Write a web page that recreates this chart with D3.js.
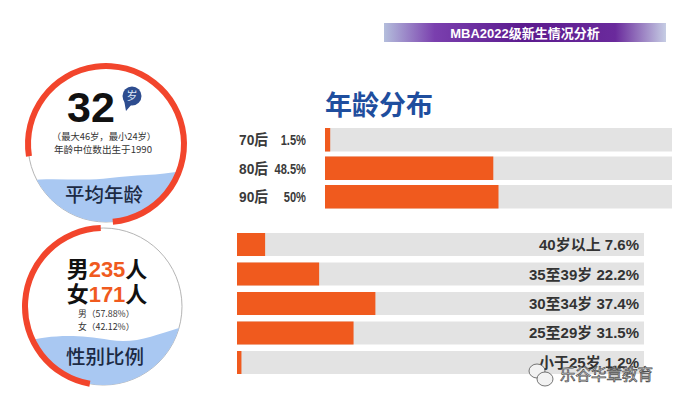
<!DOCTYPE html>
<html><head><meta charset="utf-8">
<script src="https://cdn.jsdelivr.net/npm/d3@7"></script>
<style>
html,body{margin:0;padding:0;background:#fff;}
svg{display:block;}
text{font-family:"Liberation Sans","Noto Sans CJK SC",sans-serif;}
</style></head>
<body>
<svg id="chart" width="676" height="404"></svg>
<script>
// ---- data ----
const bannerTitle = "MBA2022级新生情况分析";
const sectionTitle = "年龄分布";
const generations = ["70后", "80后", "90后"];
const generationShares = [1.5, 48.5, 50];
const generationLabels = ["1.5%", "48.5%", "50%"];
const ageGroups = ["40岁以上", "35至39岁", "30至34岁", "25至29岁", "小于25岁"];
const ageShares = [7.6, 22.2, 37.4, 31.5, 1.2];
const ageLabels = ["7.6%", "22.2%", "37.4%", "31.5%", "1.2%"];
const averageAge = 32;
const ageNotes = ["（最大46岁，最小24岁）", "年龄中位数出生于1990"];
const genders = ["男", "女"];
const genderCounts = [235, 171];
const genderPercents = ["57.88%", "42.12%"];
const watermark = "乐谷华章教育";

const svg = d3.select("#chart");
const defs = svg.append("defs");
const ORANGE = "#f05a1e", TRACK = "#e3e3e3", RED = "#f2452c", BLUE = "#a9c8f2";

// ---- banner ----
const g = defs.append("linearGradient").attr("id", "bannerGrad");
[[0, "#b4bedc"], [0.18, "#7a3fae"], [0.5, "#5b1a8e"], [0.82, "#6a2a9c"], [1, "#c6cde4"]]
  .forEach(([o, c]) => g.append("stop").attr("offset", o).attr("stop-color", c));
svg.append("rect").attr("x", 384).attr("y", 23).attr("width", 282).attr("height", 19).attr("fill", "url(#bannerGrad)");
svg.append("text").attr("x", 525).attr("y", 37.5).attr("text-anchor", "middle")
  .attr("fill", "#fff").attr("font-weight", "bold").attr("font-size", 13).text(bannerTitle);

// ---- section title ----
svg.append("text").attr("x", 325).attr("y", 115).attr("fill", "#1f4e9e")
  .attr("font-weight", "bold").attr("font-size", 27)
  .style("font-family", "'Noto Sans CJK SC',sans-serif").text(sectionTitle);

// ---- generation bars ----
const xTop = d3.scaleLinear().domain([0, 100]).range([325, 672]);
const yTop = d3.scaleBand().domain(generations).range([128, 208.5]).paddingInner(0.175);
const topRows = svg.append("g").selectAll("g").data(generations).join("g");
topRows.append("rect").attr("x", xTop(0)).attr("y", d => yTop(d))
  .attr("width", xTop(100) - xTop(0)).attr("height", yTop.bandwidth()).attr("fill", TRACK);
topRows.append("rect").attr("x", xTop(0)).attr("y", d => yTop(d))
  .attr("width", (d, i) => xTop(generationShares[i]) - xTop(0)).attr("height", yTop.bandwidth()).attr("fill", ORANGE);
topRows.append("text").attr("x", 239).attr("y", d => yTop(d) + yTop.bandwidth() / 2 + 5.5)
  .attr("fill", "#3a3a3a").attr("font-weight", "bold").attr("font-size", 15)
  .attr("textLength", 29).attr("lengthAdjust", "spacingAndGlyphs").text(d => d);
topRows.append("text").attr("x", 306).attr("text-anchor", "end").attr("y", d => yTop(d) + yTop.bandwidth() / 2 + 5.5)
  .attr("fill", "#3a3a3a").attr("font-weight", "bold").attr("font-size", 15)
  .text((d, i) => generationLabels[i])
  .each(function () {
    const w = this.getComputedTextLength();
    d3.select(this).attr("textLength", w * 0.74).attr("lengthAdjust", "spacingAndGlyphs");
  });

// ---- age group bars ----
const xBot = d3.scaleLinear().domain([0, 110]).range([237, 644]);
const yBot = d3.scaleBand().domain(ageGroups).range([233, 374]).paddingInner(0.22);
const botRows = svg.append("g").selectAll("g").data(ageGroups).join("g");
botRows.append("rect").attr("x", xBot(0)).attr("y", d => yBot(d))
  .attr("width", xBot(110) - xBot(0)).attr("height", yBot.bandwidth()).attr("fill", TRACK);
botRows.append("rect").attr("x", xBot(0)).attr("y", d => yBot(d))
  .attr("width", (d, i) => xBot(ageShares[i]) - xBot(0)).attr("height", yBot.bandwidth()).attr("fill", ORANGE);
botRows.append("text").attr("x", 639).attr("text-anchor", "end").attr("y", d => yBot(d) + yBot.bandwidth() / 2 + 5.5)
  .attr("fill", "#333").attr("font-weight", "bold").attr("font-size", 15)
  .text((d, i) => d + " " + ageLabels[i]);

// ---- circles ----
function badge(cx, cy, r, redStart, redEnd, wave, id) {
  const grp = svg.append("g");
  defs.append("clipPath").attr("id", id).append("circle").attr("cx", cx).attr("cy", cy).attr("r", r);
  grp.append("circle").attr("cx", cx).attr("cy", cy).attr("r", r).attr("fill", "#fff").attr("stroke", "#b5b5b5").attr("stroke-width", 1);
  grp.append("path").attr("clip-path", `url(#${id})`).attr("d", wave).attr("fill", BLUE);
  const arc = d3.arc().innerRadius(r - 3).outerRadius(r + 3)
    .startAngle(redStart * Math.PI / 180).endAngle(redEnd * Math.PI / 180);
  grp.append("path").attr("transform", `translate(${cx},${cy})`).attr("d", arc()).attr("fill", RED);
  return grp;
}

const c1 = { x: 106, y: 144, r: 78 };
badge(c1.x, c1.y, c1.r, -99, 175,
  "M20,182 C45,176 80,182 110,178 C140,174 165,177 200,166 L200,240 L20,240 Z", "clip1");
svg.append("text").attr("x", 67).attr("y", 122).attr("font-size", 43).attr("font-weight", "bold")
  .attr("fill", "#111").text(averageAge);
// speech bubble
svg.append("path").attr("d", "M124,100 L126,111 L132,104 Z").attr("fill", "#2e4d8f");
svg.append("circle").attr("cx", 132).attr("cy", 96).attr("r", 9.5).attr("fill", "#2e4d8f");
svg.append("text").attr("x", 132).attr("y", 100).attr("text-anchor", "middle").attr("font-size", 11)
  .attr("fill", "#dfe8f8").style("font-family", "'Noto Sans CJK SC',sans-serif").text("岁");
svg.append("text").attr("x", 104).attr("y", 139.5).attr("text-anchor", "middle").attr("font-size", 9.3)
  .attr("fill", "#333").style("font-family", "'Noto Sans CJK SC',sans-serif").text(ageNotes[0]);
svg.append("text").attr("x", 103).attr("y", 153).attr("text-anchor", "middle").attr("font-size", 9.6)
  .attr("fill", "#333").style("font-family", "'Noto Sans CJK SC',sans-serif").text(ageNotes[1]);
svg.append("text").attr("x", 104).attr("y", 202).attr("text-anchor", "middle").attr("font-size", 19.5)
  .attr("fill", "#1c2a44").attr("font-weight", 500).style("font-family", "'Noto Sans CJK SC',sans-serif").text("平均年龄");

const c2 = { x: 103.5, y: 306.5, r: 78.5 };
badge(c2.x, c2.y, c2.r, -170, -2,
  "M20,343 C45,336 70,333 110,340 C140,345 160,332 200,322 L200,400 L20,400 Z", "clip2");
genders.forEach((gname, i) => {
  const t = svg.append("text").attr("x", 107).attr("y", 277 + i * 25).attr("text-anchor", "middle")
    .attr("font-size", 22).attr("font-weight", "bold")
    .style("font-family", "'Liberation Sans','Noto Sans CJK SC',sans-serif");
  t.append("tspan").attr("fill", "#111").text(gname);
  t.append("tspan").attr("fill", ORANGE).text(genderCounts[i]);
  t.append("tspan").attr("fill", "#111").text("人");
  svg.append("text").attr("x", 78).attr("y", 317 + i * 13).attr("font-size", 8.8).attr("fill", "#333")
    .style("font-family", "'Noto Sans CJK SC',sans-serif").text(gname + "（" + genderPercents[i] + "）");
});
svg.append("text").attr("x", 105).attr("y", 364).attr("text-anchor", "middle").attr("font-size", 19.5)
  .attr("fill", "#1c2a44").attr("font-weight", 500).style("font-family", "'Noto Sans CJK SC',sans-serif").text("性别比例");

// ---- watermark ----
const wm = svg.append("g").attr("fill", "#f2f2f2").attr("stroke", "#555").attr("stroke-width", 0.8);
wm.append("ellipse").attr("cx", 537).attr("cy", 371).attr("rx", 8).attr("ry", 7);
wm.append("ellipse").attr("cx", 545).attr("cy", 379).attr("rx", 8).attr("ry", 7);
svg.append("text").attr("x", 560).attr("y", 380).attr("font-size", 15.5).attr("fill", "#e9e9e9")
  .attr("stroke", "#4a4a4a").attr("stroke-width", 0.7)
  .style("font-family", "'Noto Sans CJK SC',sans-serif").text(watermark);
</script>
</body></html>
